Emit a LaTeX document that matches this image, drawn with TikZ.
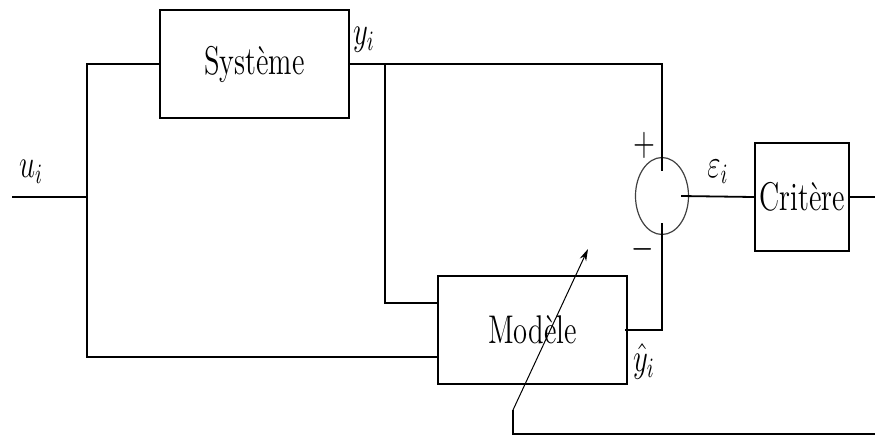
\documentclass[tikz,border=0pt]{standalone}
\usepackage{graphicx}
\usetikzlibrary{shapes.geometric,arrows.meta}
\newcommand\vst[1]{\scalebox{1}[1.4]{#1}}
\tikzset{
  wire/.style={line width=0.9pt, black},
  blockbox/.style={draw, line width=0.9pt, rectangle, inner sep=0pt, minimum width=94.5pt, minimum height=54pt, font=\fontsize{14.3}{17}\selectfont},
  sumnode/.style={draw, ellipse, line width=0.6pt, draw=black!75, inner sep=0pt, minimum width=26.5pt, minimum height=38.5pt},
  lbl/.style={inner sep=0pt, font=\fontsize{14.3}{17}\selectfont},
  adjarrow/.style={line width=0.5pt, -{Stealth[length=6pt,width=3.5pt]}}
}
\begin{document}
\begin{tikzpicture}[x=0.5pt,y=-0.5pt]
\useasboundingbox (0,0) rectangle (875,436);
% blocks
\node[blockbox] (sys) at (254.5,64) {\vst{Système}};
\node[blockbox] (mod) at (532.5,330) {\vst{Modèle}};
\node[blockbox, minimum width=47pt] (crit) at (802,197) {\vst{Critère}};
\node[sumnode] (sum) at (662,196) {};
% coordinates
\coordinate (uin) at (12,197);
\coordinate (ujn) at (87,197);
\coordinate (ubot) at (87,357);
\coordinate (yj) at (385,64);
\coordinate (cout) at (875,197);
\coordinate (atail) at (513,410);
\coordinate (ahead) at (588,249);
\coordinate (fb) at (875,434);
% wires
\draw[wire] (uin) -- (ujn);
\draw[wire] (sys.west) -| (ubot) -- ([yshift=-13.5pt]mod.west);
\draw[wire] (sys.east) -| ([yshift=-7pt]sum.north);
\draw[wire] (yj) |- ([yshift=13.5pt]mod.west);
\draw[wire] ([xshift=-1.5pt]mod.east) -| ([yshift=6pt]sum.south);
\draw[wire] ([xshift=-4pt]sum.east) -- (crit.west);
\draw[wire] (crit.east) -- (cout);
\draw[adjarrow] (atail) -- (ahead);
\draw[wire] (atail) |- (fb);
% labels
\node[lbl] (lu) at (31,172) {\vst{$u_i$}};
\node[lbl] (ly) at (364,40) {\vst{$y_i$}};
\node[lbl] (le) at (718,172) {\vst{$\varepsilon_i$}};
\node[lbl] (lyh) at (644,361) {\vst{$\hat{y}_i$}};
\node[lbl] (lp) at (644,145) {\vst{$+$}};
\node[lbl] (lm) at (643,249) {\vst{$-$}};
\end{tikzpicture}
\end{document}
